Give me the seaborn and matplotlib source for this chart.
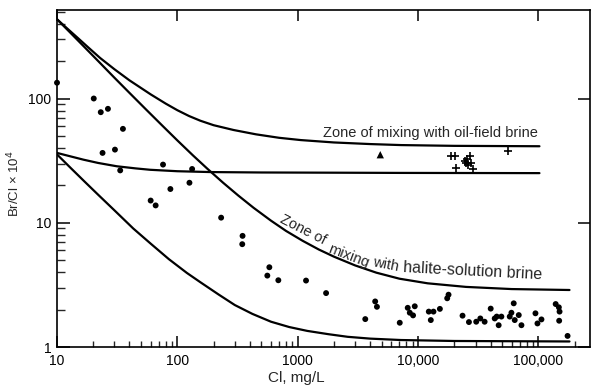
import matplotlib
matplotlib.use("Agg")
import matplotlib.pyplot as plt
import seaborn as sns
import numpy as np
from matplotlib.ticker import FixedLocator, FixedFormatter, LogLocator, NullFormatter

# ---- data ----
circle_cl = [10, 20.2, 23.1, 26.5, 35.3, 23.9, 30.3, 33.5, 76, 132.6, 126, 87.5, 60, 66,
             231, 348, 346, 581, 559, 690, 1172, 1720, 3640, 4400, 4550, 7040, 8200, 8530,
             9080, 9380, 12270, 13420, 12750, 15170, 17450, 17900, 23400, 26450, 30400,
             32880, 35700, 40100, 43300, 45000, 46700, 49200, 57700, 59600, 62300, 63500,
             68600, 72200, 94400, 98100, 105900, 139000, 147700, 149700, 148600, 174500]
circle_ratio = [134, 100, 77.6, 82.6, 57, 36.5, 38.8, 26.4, 29.4, 27.1, 21, 18.7, 15.1, 13.8,
                11.0, 7.85, 6.73, 4.39, 3.76, 3.45, 3.43, 2.72, 1.68, 2.33, 2.11, 1.57, 2.07, 1.89,
                1.80, 2.13, 1.93, 1.93, 1.65, 2.03, 2.47, 2.64, 1.79, 1.59, 1.60,
                1.70, 1.60, 2.04, 1.70, 1.76, 1.50, 1.76, 1.76, 1.89, 2.25, 1.65,
                1.81, 1.50, 1.87, 1.55, 1.67, 2.22, 2.09, 1.93, 1.63, 1.23]

cross_cl = [18840, 20330, 20740, 24300, 25600, 26800, 27650, 25900, 28600, 25100, 55900]
cross_ratio = [34.7, 34.7, 27.6, 31.2, 32.6, 34.3, 30.3, 29.4, 27.1, 30.3, 37.6]

triangle_cl = [4850]
triangle_ratio = [35.3]

# mixing curves
oil_upper_cl = [10, 12, 15, 18, 22.8, 30, 40, 60, 80, 100, 125, 155, 200, 293, 450, 700,
                1060, 2000, 4000, 7220, 20000, 101900]
oil_upper_ratio = [434, 370, 305, 260, 212, 172, 140, 108, 91, 80.5, 72.3, 66.3, 61.0, 55.8,
                   51.5, 48.3, 46.3, 44.3, 43.0, 42.2, 41.6, 41.3]

oil_lower_cl = [10, 13, 16.6, 22, 31.4, 45, 59.6, 100, 188, 500, 2000, 7220, 101900]
oil_lower_ratio = [36.5, 34.2, 32.2, 30.3, 28.5, 27.4, 26.7, 26.0, 25.6, 25.4, 25.3, 25.2, 25.1]

halite_upper_cl = [10, 13, 17, 22, 30, 40, 55, 75, 100, 135, 177, 240, 320, 430, 600, 800,
                   1100, 1500, 2000, 3000, 4500, 7000, 12000, 25000, 60000, 181000]
halite_upper_ratio = [434, 336, 258, 200, 147, 111, 81.5, 60.5, 46, 34.8, 27.3, 21.0, 16.6,
                      13.2, 10.4, 8.6, 7.16, 6.09, 5.34, 4.54, 3.97, 3.55, 3.26, 3.05, 2.93, 2.88]

halite_lower_cl = [10, 13, 17, 22, 30, 43, 60, 85, 120, 155, 220, 300, 420, 600, 850, 1200,
                   1800, 2600, 4000, 7200, 20000, 181000]
halite_lower_ratio = [35.5, 27.6, 21.4, 16.8, 12.6, 9.0, 6.8, 5.1, 3.95, 3.33, 2.65, 2.18,
                      1.85, 1.6, 1.45, 1.35, 1.27, 1.21, 1.17, 1.14, 1.12, 1.11]

x_ticks = [10, 100, 1000, 10000, 100000]
x_labels = ["10", "100", "1000", "10,000", "100,000"]
y_ticks = [1, 10, 100]
y_labels = ["1", "10", "100"]

# ---- plotting ----
sns.set_style("ticks")
plt.rcParams['font.family'] = ['Liberation Sans', 'DejaVu Sans']
plt.rcParams['font.size'] = 10

fig = plt.figure(figsize=(6, 3.9), dpi=100)
ax = fig.add_axes([0.095, 0.110, 0.888, 0.864])

for cx, cy in [(oil_upper_cl, oil_upper_ratio), (oil_lower_cl, oil_lower_ratio),
               (halite_upper_cl, halite_upper_ratio), (halite_lower_cl, halite_lower_ratio)]:
    sns.lineplot(x=cx, y=cy, ax=ax, color="black", linewidth=1.6,
                 estimator=None, sort=False)

sns.scatterplot(x=circle_cl, y=circle_ratio, ax=ax, color="black", marker="o",
                s=18, edgecolor="none", clip_on=False, zorder=5)
sns.scatterplot(x=cross_cl, y=cross_ratio, ax=ax, color="black", marker="+",
                s=40, linewidth=1.2, zorder=5)
sns.scatterplot(x=triangle_cl, y=triangle_ratio, ax=ax, color="black", marker="^",
                s=28, edgecolor="none", zorder=5)

ax.set_xscale("log")
ax.set_yscale("log")
ax.set_xlim(10, 267000)
ax.set_ylim(1, 514)

ax.xaxis.set_major_locator(FixedLocator(x_ticks))
ax.xaxis.set_major_formatter(FixedFormatter(x_labels))
ax.yaxis.set_major_locator(FixedLocator(y_ticks))
ax.yaxis.set_major_formatter(FixedFormatter(y_labels))
ax.xaxis.set_minor_locator(LogLocator(base=10, subs=np.arange(2, 10), numticks=20))
ax.yaxis.set_minor_locator(LogLocator(base=10, subs=np.arange(2, 10), numticks=20))
ax.xaxis.set_minor_formatter(NullFormatter())
ax.yaxis.set_minor_formatter(NullFormatter())

for sp in ax.spines.values():
    sp.set_linewidth(1.2)
    sp.set_color("black")

ax.tick_params(axis="x", which="major", direction="in", length=8, width=1.1,
               top=True, bottom=True, labelsize=10, pad=5, colors="black")
ax.tick_params(axis="x", which="minor", direction="in", length=4.5, width=1.0,
               top=False, bottom=True)
ax.tick_params(axis="y", which="major", direction="in", length=9, width=1.1,
               left=True, right=True, labelsize=10, pad=4, colors="black")
ax.tick_params(axis="y", which="minor", direction="in", length=5.5, width=1.0,
               left=True, right=False)

ax.set_xlabel("Cl, mg/L", fontsize=11)
ax.set_ylabel("Br/Cl \u00d7 10$^4$", fontsize=9.5)
ax.xaxis.set_label_coords(0.45, -0.072)
ax.yaxis.set_label_coords(-0.066, 0.484)

ax.text(1618, 52.7, "Zone of mixing with oil-field brine", fontsize=10.5,
        ha="left", va="center")
ax.text(1104, 8.74, "Zone of", fontsize=10.5, rotation=-27, ha="center", va="center",
        rotation_mode="anchor")
ax.text(2661, 5.42, "mixing", fontsize=10.5, rotation=-21, ha="center", va="center",
        rotation_mode="anchor")
ax.text(5410, 4.57, "with", fontsize=10.5, rotation=-11, ha="center", va="center",
        rotation_mode="anchor")
ax.text(28500, 4.06, "halite-solution brine", fontsize=11.5, rotation=-3, ha="center",
        va="center", rotation_mode="anchor")

fig.savefig("out.png", dpi=100)
